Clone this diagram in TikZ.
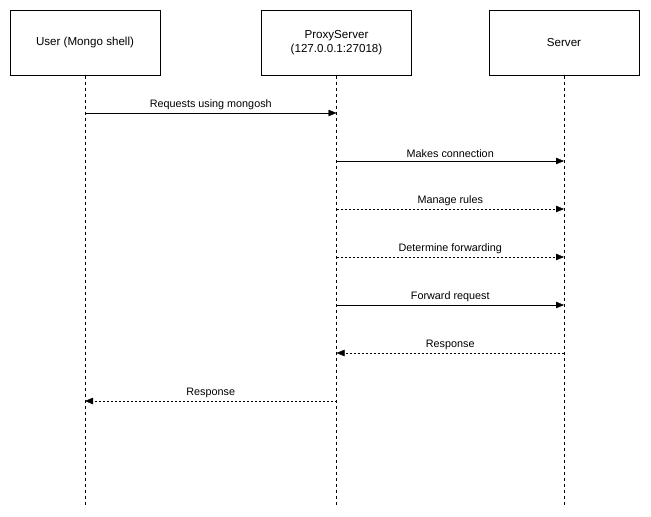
\documentclass[tikz,border=0pt]{standalone}
\usepackage{fontspec}
\setmainfont{Liberation Sans}
\usetikzlibrary{arrows.meta}
\tikzset{
    actor/.style={draw, line width=1pt, minimum width=150pt, minimum height=65pt, align=center, font=\fontsize{11.6}{14}\selectfont},
    life/.style={dash pattern=on 3pt off 3pt},
    msg/.style={-{Triangle[length=8pt,width=6.5pt]}},
    reply/.style={msg, dash pattern=on 2pt off 2pt},
    lbl/.style={font=\fontsize{10.8}{12}\selectfont, above=-0.5pt}
}
\begin{document}
\begin{tikzpicture}[x=1pt, y=-1pt]
            \useasboundingbox (0,0) rectangle (651,517);
            \node[actor] (user) at (85,42.5) {User (Mongo shell)};
            \node[actor] (proxy) at (336.5,42.5) {ProxyServer\\(127.0.0.1:27018)};
            \node[actor] (server) at (564,42.5) {Server};
            \coordinate (userend) at (85,505);
            \coordinate (proxyend) at (336.5,505);
            \coordinate (serverend) at (564,505);
            \draw[life] (user.south) to (userend);
            \draw[life] (proxy.south) to (proxyend);
            \draw[life] (server.south) to (serverend);
            % messages
            \coordinate (u1) at (85,113); \coordinate (p1) at (336.5,113);
            \coordinate (p2) at (336.5,161); \coordinate (s2) at (564,161);
            \coordinate (p3) at (336.5,209); \coordinate (s3) at (564,209);
            \coordinate (p4) at (336.5,257); \coordinate (s4) at (564,257);
            \coordinate (p5) at (336.5,305); \coordinate (s5) at (564,305);
            \coordinate (s6) at (564,353); \coordinate (p6) at (336.5,353);
            \coordinate (p7) at (336.5,401); \coordinate (u7) at (85,401);
            \draw[msg] (u1) to node[lbl]{Requests using mongosh} (p1);
            \draw[msg] (p2) to node[lbl]{Makes connection} (s2);
            \draw[reply] (p3) to node[lbl]{Manage rules} (s3);
            \draw[reply] (p4) to node[lbl]{Determine forwarding} (s4);
            \draw[msg] (p5) to node[lbl]{Forward request} (s5);
            \draw[reply] (s6) to node[lbl]{Response} (p6);
            \draw[reply] (p7) to node[lbl]{Response} (u7);
        \end{tikzpicture}
\end{document}
